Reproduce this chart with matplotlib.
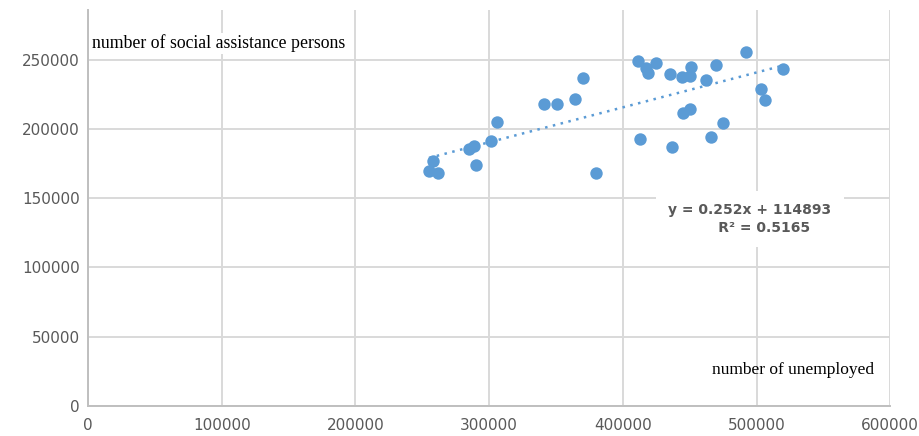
import matplotlib
matplotlib.use("Agg")
import matplotlib.pyplot as plt
import numpy as np

# ── data ─────────────────────────────────────────────────────────────────────
unemployed = [258000, 255000, 262000, 285000, 289000, 290000, 301000, 306000,
              341000, 351000, 364000, 370000, 380000, 411000, 417000, 419000,
              425000, 435000, 444000, 450000, 451000, 462000, 470000, 492000,
              520000, 503000, 506000, 445000, 450000, 475000, 413000, 437000,
              466000]
assistance = [177000, 170000, 168000, 185500, 188000, 174000, 191700, 205400,
              218200, 218200, 221800, 236800, 168100, 249300, 244000, 240400,
              248000, 239900, 237500, 238600, 245100, 235500, 246200, 256000,
              243700, 228800, 221100, 211500, 214600, 204700, 192900, 186900,
              194600]

slope = 0.252
intercept = 114893
r_squared = 0.5165

x_ticks = [0, 100000, 200000, 300000, 400000, 500000, 600000]
y_ticks = [0, 50000, 100000, 150000, 200000, 250000]

BLUE = "#5B9BD5"
GRID = "#D9D9D9"
TICK = "#595959"

fig = plt.figure(figsize=(9.2, 4.36), dpi=100)
ax = fig.add_axes([0.0957, 0.069, 0.872, 0.908])

ax.scatter(unemployed, assistance, s=80, color=BLUE, zorder=3, linewidths=0)

xs = np.array([min(unemployed), max(unemployed)])
ax.plot(xs, slope * xs + intercept, linestyle=(0, (1, 2.2)), color=BLUE,
        linewidth=1.8, zorder=2)

ax.set_xlim(0, 600000)
ax.set_ylim(0, 286000)
ax.set_xticks(x_ticks)
ax.set_yticks(y_ticks)
ax.tick_params(length=0, labelsize=11, colors=TICK, pad=6)
ax.tick_params(axis="x", pad=9)
ax.grid(True, color=GRID, linewidth=1.4, zorder=0)
ax.set_axisbelow(True)
for side in ("top", "right"):
    ax.spines[side].set_visible(False)
for side in ("left", "bottom"):
    ax.spines[side].set_color("#BFBFBF")
    ax.spines[side].set_linewidth(1.4)

serif = ["Liberation Serif", "DejaVu Serif"]
ax.text(3000, 262000, "number of social assistance persons", family=serif,
        fontsize=12.8, color="black", ha="left", va="center",
        bbox=dict(fc="white", ec="none", pad=1))
ax.text(467000, 26000, "number of unemployed", family=serif, fontsize=12.5,
        color="black", ha="left", va="center")

ax.text(495000, 135000,
        f"y = {slope}x + {intercept}\n      R² = {r_squared}",
        fontsize=10, color="#595959", fontweight="bold", ha="center",
        va="center", linespacing=1.3,
        bbox=dict(fc="white", ec="none", pad=9))

fig.savefig("out.png", dpi=100)
